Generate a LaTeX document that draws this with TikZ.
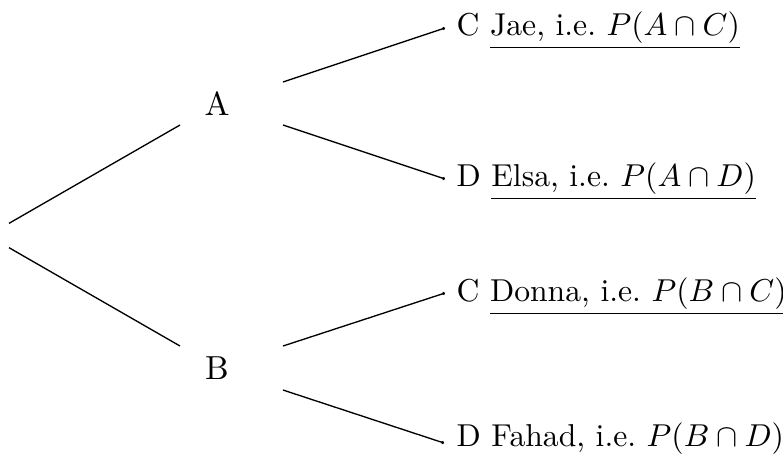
\documentclass[tikz,border=0pt]{standalone}
\usepackage{graphicx}
\usetikzlibrary{arrows.meta}
\frenchspacing
\newcommand{\leaftext}[1]{\scalebox{0.95}{#1}}
\begin{document}
\begin{tikzpicture}[x=0.3pt,y=-0.3pt,
  branch/.style={line width=0.4pt},
  leafedge/.style={branch,-{Circle[length=0.9pt]}},
  inner/.style={inner sep=0pt},
  leaf/.style={anchor=base west,inner sep=0pt}]
\useasboundingbox (0,0) rectangle (783,458);
\node[inner sep=0pt,minimum width=0pt,minimum height=6.9pt] (root) at (9,235.5) {};
\node[inner] (A) at (217,104) {A};
\node[inner] (B) at (217,368) {B};
\node[leaf] (AC) at (456,35) {\leaftext{C \underline{Jae, i.e.\ $P(A\cap C)$}}};
\node[leaf] (AD) at (456,186) {\leaftext{D \underline{Elsa, i.e.\ $P(A\cap D)$}}};
\node[leaf] (BC) at (456,301) {\leaftext{C \underline{Donna, i.e.\ $P(B\cap C)$}}};
\node[leaf] (BD) at (456,446) {\leaftext{D Fahad, i.e.\ $P(B\cap D)$}};
\draw[branch] (root.north) -- ([shift={(-37,21)}]A.center);
\draw[branch] (root.south) -- ([shift={(-37,-22)}]B.center);
\draw[leafedge] ([shift={(66,-22)}]A.center) -- ([shift={(-11,-7)}]AC.base west);
\draw[leafedge] ([shift={(66,21)}]A.center) -- ([shift={(-11,-7)}]AD.base west);
\draw[leafedge] ([shift={(66,-22)}]B.center) -- ([shift={(-11,-8)}]BC.base west);
\draw[leafedge] ([shift={(66,22)}]B.center) -- ([shift={(-12,-3)}]BD.base west);
\end{tikzpicture}
\end{document}
